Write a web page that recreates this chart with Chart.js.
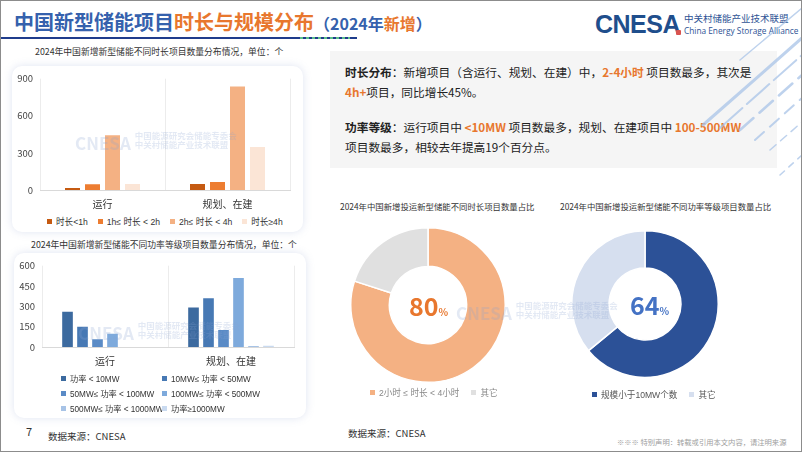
<!DOCTYPE html>
<html>
<head>
<meta charset="utf-8">
<script src="https://cdn.jsdelivr.net/npm/chart.js@4.4.1/dist/chart.umd.min.js"></script>
<style>
  body { margin: 0; background: #fff; }
  #page { position: relative; width: 802px; height: 452px; overflow: hidden; background: #fff;
    font-family: "Noto Sans CJK SC", "Noto Sans", sans-serif; color: #333; }
  .abs { position: absolute; white-space: nowrap; }
  .blue { color: #3561ad; }
  .orange { color: #e8772e; }
  #frame { position: absolute; left: 0; top: 0; width: 800px; height: 450px; border: 1px solid #8c8c8c; pointer-events: none; }
  .card { position: absolute; background: #fff; border-radius: 10px; box-shadow: 0 0 8px rgba(110, 130, 190, 0.22); }
  canvas { position: absolute; }
  .legend { font-family: "Liberation Sans", "Noto Sans CJK SC", sans-serif; }
  .legend i { display: inline-block; width: 5px; height: 5px; margin-right: 4px; vertical-align: 1px; }
  .wm { position: absolute; color: rgba(140, 165, 210, 0.24); font-weight: bold; white-space: nowrap; }
  #note p { margin: 0; }
</style>
</head>
<body>
<div id="page">
  <div class="abs" style="left:14px; top:8px; font-size:20px; font-weight:bold; line-height:28px;">
    <span class="blue">中国新型储能项目</span><span class="orange">时长与规模分布</span><span class="blue" style="font-size:16px;">（2024年<span class="orange">新增</span>）</span>
  </div>
  <div class="abs" style="left:0; top:37px; width:357px; height:2px; background:#1f3c8c;"></div>
  <div class="abs" style="left:300px; top:37px; width:50px; height:2px; background:repeating-linear-gradient(90deg,#5cc08a 0 3px,#1f3c8c 3px 6px);"></div>

  <div class="abs" style="left:595px; top:10px; font-size:25px; font-weight:bold; color:#1f4e8c; font-family:'Liberation Sans', Arial, sans-serif; letter-spacing:-0.5px;">CNESA</div>
  <div class="abs" style="left:676px; top:30px; width:5px; height:5px; background:#d9534f; border-radius:1px;"></div>
  <div class="abs" style="left:684px; top:11px; font-size:9.5px; color:#2e5395;">中关村储能产业技术联盟</div>
  <div class="abs" style="left:684px; top:25px; font-size:8.3px; color:#2e5395; font-family:'Open Sans', sans-serif;">China Energy Storage Alliance</div>

  <div id="note" class="abs" style="left:330px; top:51px; width:447px; height:117px; background:#f5f5f5;">
    <div style="position:absolute; left:15px; top:11px; font-size:11.7px; line-height:20px; color:#222;">
      <p><b>时长分布</b>：新增项目（含运行、规划、在建）中，<b class="orange">2-4小时</b> 项目数最多，其次是</p>
      <p><b class="orange">4h+</b>项目，同比增长45%。</p>
      <p style="margin-top:15px;"><b>功率等级</b>：运行项目中 <b class="orange">&lt;10MW</b> 项目数最多，规划、在建项目中 <b class="orange">100-500MW</b></p>
      <p>项目数最多，相较去年提高19个百分点。</p>
    </div>
  </div>

  <svg class="abs" style="left:680px; top:0;" width="122" height="220">
    <g stroke="#a9c4e8" stroke-linecap="round" fill="none" opacity="0.75">
      <line x1="23" y1="125" x2="122" y2="38" stroke-width="3"/>
      <line x1="40" y1="128" x2="122" y2="55" stroke-width="2" stroke-dasharray="30 6"/>
      <line x1="60" y1="130" x2="122" y2="75" stroke-width="2.5" stroke-dasharray="18 8"/>
      <line x1="75" y1="140" x2="122" y2="98" stroke-width="2" stroke-dasharray="12 8"/>
      <line x1="90" y1="150" x2="122" y2="122" stroke-width="1.5" stroke-dasharray="8 6"/>
      <line x1="100" y1="175" x2="122" y2="155" stroke-width="1.5" stroke-dasharray="6 6"/>
      <line x1="60" y1="60" x2="122" y2="8" stroke-width="1.5"/>
    </g>
  </svg>

  <div class="abs" style="left:35px; top:45px; font-size:8.8px;">2024年中国新增新型储能不同时长项目数量分布情况，单位：个</div>
  <div class="card" style="left:12px; top:66px; width:291px; height:166px;"></div>
  <canvas id="durBar" width="291" height="146" style="left:12px; top:66px;"></canvas>
  <div id="durLegend" class="legend abs" style="left:47px; top:215px; font-size:8.6px; color:#333; display:flex; gap:10px;"></div>

  <div class="abs" style="left:31px; top:238px; font-size:8.8px;">2024年中国新增新型储能不同功率等级项目数量分布情况，单位：个</div>
  <div class="card" style="left:14px; top:253px; width:292px; height:165px;"></div>
  <canvas id="powBar" width="292" height="121" style="left:14px; top:253px;"></canvas>
  <div id="powLegend" class="legend"></div>

  <div class="abs" style="left:340px; top:200px; font-size:8.4px;">2024年中国新增投运新型储能不同时长项目数量占比</div>
  <canvas id="durPie" width="156" height="156" style="left:350px; top:227px;"></canvas>
  <div class="abs" style="left:409px; top:291px; font-size:25px; font-weight:bold; color:#e8772e; line-height:28px;">80<span style="font-size:10px;">%</span></div>
  <div id="durPieLegend" class="legend abs" style="left:370px; top:386px; font-size:8.6px; color:#888;"></div>

  <div class="abs" style="left:560px; top:200px; font-size:8.4px;">2024年中国新增投运新型储能不同功率等级项目数量占比</div>
  <canvas id="powPie" width="148" height="148" style="left:571px; top:230px;"></canvas>
  <div class="abs" style="left:630px; top:290px; font-size:25px; font-weight:bold; color:#4472c4; line-height:28px;">64<span style="font-size:10px;">%</span></div>
  <div id="powPieLegend" class="legend abs" style="left:592px; top:388px; font-size:8.6px; color:#555;"></div>

  <div class="wm" style="left:75px; top:130px; font-size:17px;">CNESA <span style="font-size:8.5px; display:inline-block; line-height:9px; vertical-align:2px;">中国能源研究会储能专委会<br>中关村储能产业技术联盟</span></div>
  <div class="wm" style="left:78px; top:320px; font-size:17px;">CNESA <span style="font-size:8.5px; display:inline-block; line-height:9px; vertical-align:2px;">中国能源研究会储能专委会<br>中关村储能产业技术联盟</span></div>
  <div class="wm" style="left:456px; top:300px; font-size:17px;">CNESA <span style="font-size:8.5px; display:inline-block; line-height:9px; vertical-align:2px;">中国能源研究会储能专委会<br>中关村储能产业技术联盟</span></div>

  <div class="abs" style="left:26px; top:423px; font-size:11px; color:#333;">7</div>
  <div class="abs" style="left:48px; top:429px; font-size:9.5px;">数据来源：CNESA</div>
  <div class="abs" style="left:348px; top:426px; font-size:9.5px;">数据来源：CNESA</div>
  <div class="abs" style="left:617px; top:437px; font-size:7.3px; color:#a0a0a0;">※※※ 特别声明：转载或引用本文内容，请注明来源</div>
  <div id="frame"></div>
</div>

<script>
const categories = ["运行", "规划、在建"];

const durLabels = ["时长<1h", "1h≤ 时长 < 2h", "2h≤ 时长 < 4h", "时长≥4h"];
const durRun = [16, 46, 442, 48];
const durPlan = [48, 64, 836, 348];
const durColors = ["#c55a11", "#ed7d31", "#f4b183", "#fbe5d6"];
const durTicks = [0, 300, 600, 900];

const powLabels = ["功率 < 10MW", "10MW≤ 功率 < 50MW", "50MW≤ 功率 < 100MW", "100MW≤ 功率 < 500MW", "500MW≤ 功率 < 1000MW", "功率≥1000MW"];
const powRun = [260, 150, 58, 97, 0, 0];
const powPlan = [292, 360, 126, 510, 8, 10];
const powColors = ["#3c6a9f", "#4779b4", "#5a8bc6", "#7eaadc", "#a7c3e6", "#c9daf0"];
const powTicks = [0, 150, 300, 450, 600];

const durShareLabels = ["2小时 ≤ 时长 < 4小时", "其它"];
const durShare = [80, 20];
const powShareLabels = ["规模小于10MW个数", "其它"];
const powShare = [64, 36];

const font = "'Noto Sans CJK SC', 'Noto Sans', sans-serif";
Chart.defaults.font.family = font;
Chart.defaults.color = "#444";

function barOptions(ticks, padding, xHeight, catPct, barPct) {
  return {
    responsive: false,
    animation: false,
    devicePixelRatio: 1,
    layout: { padding: padding },
    datasets: { bar: { categoryPercentage: catPct, barPercentage: barPct } },
    plugins: { legend: { display: false }, tooltip: { enabled: false } },
    scales: {
      x: {
        afterFit: (s) => { s.height = xHeight; },
        grid: { display: true, color: "#ececec", drawTicks: false, offset: true },
        border: { display: true, color: "#d9d9d9" },
        ticks: { font: { size: 10 }, color: "#333", padding: 8 }
      },
      y: {
        min: ticks[0],
        max: ticks[ticks.length - 1],
        afterFit: (s) => { s.width = 28; },
        afterBuildTicks: (s) => { s.ticks = ticks.map((v) => ({ value: v })); },
        grid: { display: false, drawTicks: false },
        border: { display: false },
        ticks: { font: { size: 9.5 }, color: "#444", padding: 7 }
      }
    }
  };
}

new Chart(document.getElementById("durBar"), {
  type: "bar",
  data: {
    labels: categories,
    datasets: durLabels.map((l, i) => ({ label: l, data: [durRun[i], durPlan[i]], backgroundColor: durColors[i] }))
  },
  options: barOptions(durTicks, { top: 12, right: 13, left: 0, bottom: 0 }, 22, 0.64, 0.75)
});

new Chart(document.getElementById("powBar"), {
  type: "bar",
  data: {
    labels: categories,
    datasets: powLabels.map((l, i) => ({ label: l, data: [powRun[i], powPlan[i]], backgroundColor: powColors[i] }))
  },
  options: barOptions(powTicks, { top: 12, right: 12, left: 0, bottom: 0 }, 27, 0.714, 0.71)
});

document.getElementById("durLegend").innerHTML = durLabels
  .map((l, i) => '<span><i style="background:' + durColors[i] + '"></i>' + l + "</span>")
  .join("");

// legend for the power chart: two columns, three rows
const powLegend = document.getElementById("powLegend");
powLabels.forEach((l, i) => {
  const d = document.createElement("div");
  d.className = "abs";
  d.style.cssText = "left:" + (i % 2 ? 162 : 61) + "px; top:" + (372 + Math.floor(i / 2) * 15) + "px; font-size:8.2px; color:#333;";
  d.innerHTML = '<i style="background:' + powColors[i] + '"></i>' + l;
  powLegend.appendChild(d);
});

function donut(id, values, colors, cutout) {
  new Chart(document.getElementById(id), {
    type: "doughnut",
    data: { labels: values.map((v, i) => i), datasets: [{ data: values, backgroundColor: colors, borderColor: "#fff", borderWidth: 1.5 }] },
    options: {
      responsive: false,
      animation: false,
      devicePixelRatio: 1,
      cutout: cutout,
      plugins: { legend: { display: false }, tooltip: { enabled: false } }
    }
  });
}

const durPieColors = ["#f4b183", "#e0e0e0"];
const powPieColors = ["#2c5197", "#d6dfef"];
donut("durPie", durShare, durPieColors, "50%");
donut("powPie", powShare, powPieColors, "49%");

function pieLegend(id, labels, colors) {
  document.getElementById(id).innerHTML = labels
    .map((l, i) => '<span style="margin-right:12px;"><i style="background:' + colors[i] + '"></i>' + l + "</span>")
    .join("");
}
pieLegend("durPieLegend", durShareLabels, durPieColors);
pieLegend("powPieLegend", powShareLabels, powPieColors);
</script>
</body>
</html>
